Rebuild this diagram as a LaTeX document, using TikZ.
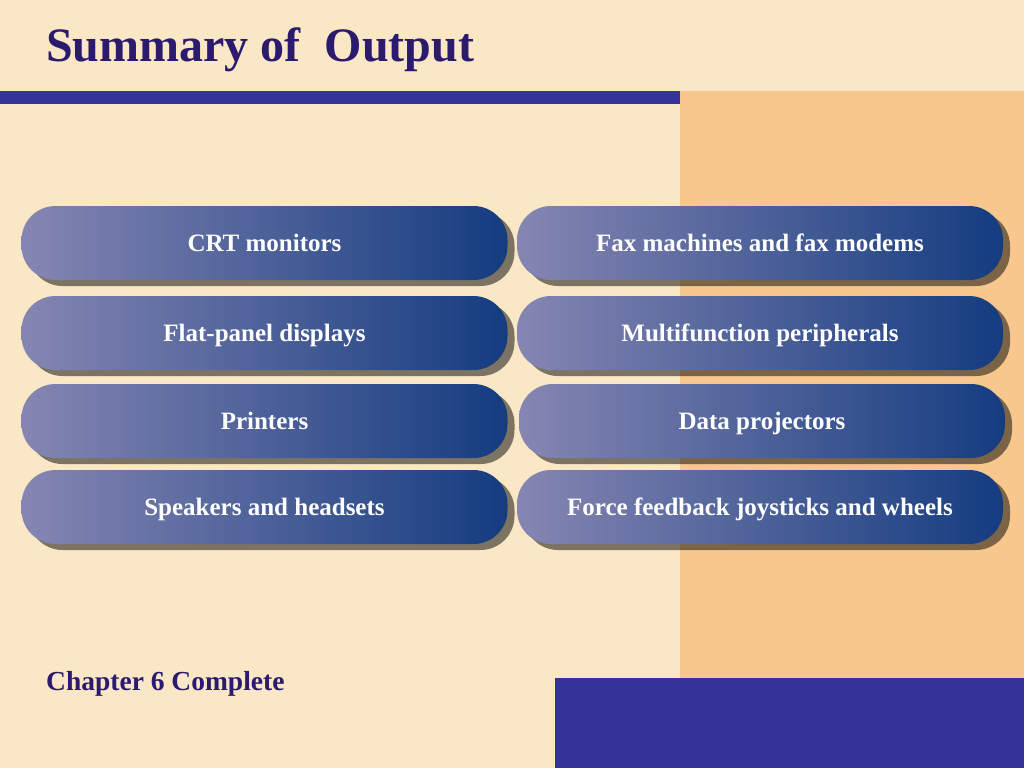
\documentclass[tikz,border=0pt]{standalone}
\usepackage{fontspec}
\setmainfont{Liberation Serif}
\usetikzlibrary{shadows}
\definecolor{cream}{RGB}{249,231,198}
\definecolor{peach}{RGB}{248,199,141}
\definecolor{barblue}{RGB}{51,51,153}
\definecolor{titlepurple}{RGB}{44,26,110}
\definecolor{pillleft}{RGB}{134,134,178}
\definecolor{pillright}{RGB}{20,60,128}
\tikzset{
  pill/.style={rectangle, rounded corners=34pt, minimum width=486pt, minimum height=74pt,
    inner sep=0pt, left color=pillleft, right color=pillright, text=white,
    text height=19pt, text depth=3pt,
    font=\fontsize{25}{30}\selectfont\bfseries,
    drop shadow={shadow xshift=7pt, shadow yshift=-6pt, opacity=0.5, fill=black}},
}
\begin{document}
\begin{tikzpicture}[x=1pt,y=-1pt]
\useasboundingbox (0,0) rectangle (1024,768);
\fill[cream] (0,0) rectangle (1024,768);
\fill[peach] (680,91) rectangle (1024,678);
\fill[barblue] (0,91) rectangle (680,104);
\fill[barblue] (555,678) rectangle (1024,768);
\node[anchor=base west, text=titlepurple, font=\fontsize{48}{56}\selectfont\bfseries, inner sep=0pt] (title) at (46,62) {Summary of\ \ Output};
\node[anchor=base west, text=titlepurple, font=\fontsize{27.5}{32}\selectfont\bfseries, inner sep=0pt] (chap) at (46,690) {Chapter 6 Complete};
\node[pill] (l1) at (264.5,243) {CRT monitors};
\node[pill] (l2) at (264.5,333) {Flat-panel displays};
\node[pill] (l3) at (264.5,421) {Printers};
\node[pill] (l4) at (264.5,507) {Speakers and headsets};
\node[pill] (r1) at (760,243) {Fax machines and fax modems};
\node[pill] (r2) at (760,333) {Multifunction peripherals};
\node[pill] (r3) at (762,421) {Data projectors};
\node[pill] (r4) at (760,507) {Force feedback joysticks and wheels};
\end{tikzpicture}
\end{document}
